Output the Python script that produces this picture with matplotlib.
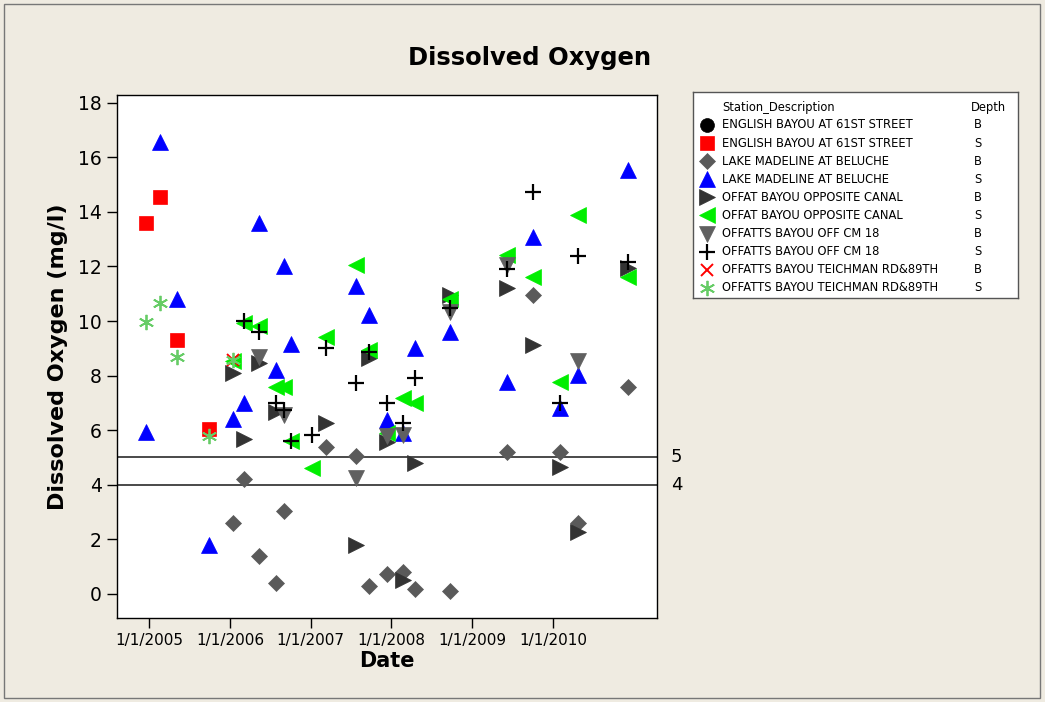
import matplotlib
matplotlib.use("Agg")
import matplotlib.pyplot as plt
import numpy as np
import pandas as pd
from matplotlib.patches import Rectangle

N = None

# sampling dates
dates = pd.to_datetime([
    "2004-12-16", "2005-02-18", "2005-05-04", "2005-09-28", "2006-01-13",
    "2006-03-05", "2006-05-10", "2006-07-26", "2006-09-02", "2006-10-05",
    "2007-01-07", "2007-03-10", "2007-07-26", "2007-09-21", "2007-12-11",
    "2008-02-23", "2008-04-18", "2008-09-24", "2009-06-08", "2009-10-02",
    "2010-02-03", "2010-04-26", "2010-12-07",
])

# dissolved oxygen (mg/l) per station/depth, None = not sampled
english_b = [N] * 23
english_s = [13.6, 14.55, 9.3, 6.03] + [N] * 19
lake_b = [N, N, N, N, 2.59, 4.2, 1.39, 0.39, 3.05, N, N, 5.4, 5.05, 0.3, 0.73,
          0.82, 0.18, 0.12, 5.21, 10.95, 5.21, 2.61, 7.57]
lake_s = [5.95, 16.57, 10.8, 1.8, 6.4, 7.0, 13.6, 8.2, 12.0, 9.15, N, N, 11.29,
          10.22, 6.37, 5.91, 9.02, 9.6, 7.78, 13.09, 6.8, 8.02, 15.53]
offat_b = [N, N, N, N, 8.1, 5.67, 8.45, 6.68, N, N, N, 6.25, 1.79, 8.63, 5.58,
           0.51, 4.79, 10.95, 11.2, 9.12, 4.66, 2.28, 11.93]
offat_s = [N, N, N, N, 8.55, 9.93, 9.8, 7.57, 7.57, 5.62, 4.6, 9.4, 12.05, 8.94,
           5.88, 7.17, 6.98, 10.8, 12.42, 11.62, 7.75, 13.88, 11.62]
offatts_b = [N, N, N, N, N, N, 8.69, N, 6.56, N, N, N, 4.24, N, 5.79, 5.82, N,
             10.34, 12.07, N, N, 8.55, N]
offatts_s = [N, N, N, N, N, 10.0, 9.6, 6.98, 6.74, 5.62, 5.82, 9.0, 7.72, 8.87,
             6.98, 6.25, 7.9, 10.46, 11.9, 14.74, 6.98, 12.4, 12.17]
teich_b = [N, N, N, N, 8.57] + [N] * 18
teich_s = [9.97, 10.65, 8.69, 5.79, 8.57] + [N] * 18

stations = ["ENGLISH BAYOU AT 61ST STREET", "ENGLISH BAYOU AT 61ST STREET",
            "LAKE MADELINE AT BELUCHE", "LAKE MADELINE AT BELUCHE",
            "OFFAT BAYOU OPPOSITE CANAL", "OFFAT BAYOU OPPOSITE CANAL",
            "OFFATTS BAYOU OFF CM 18", "OFFATTS BAYOU OFF CM 18",
            "OFFATTS BAYOU TEICHMAN RD&89TH", "OFFATTS BAYOU TEICHMAN RD&89TH"]
depths = ["B", "S", "B", "S", "B", "S", "B", "S", "B", "S"]
series = [english_b, english_s, lake_b, lake_s, offat_b, offat_s,
          offatts_b, offatts_s, teich_b, teich_s]
ref_levels = [5, 4]
year_ticks = pd.to_datetime(["2005-01-01", "2006-01-01", "2007-01-01",
                             "2008-01-01", "2009-01-01", "2010-01-01"])

# marker styles mimicking the Minitab symbols
styles = [
    dict(marker="o", color="#000000", ms=10),
    dict(marker="s", color="#FF0000", ms=10),
    dict(marker="D", color="#5A5A5A", ms=8),
    dict(marker="^", color="#0000FF", ms=11),
    dict(marker=">", color="#333333", ms=11),
    dict(marker="<", color="#00EE00", ms=11),
    dict(marker="v", color="#606060", ms=11),
    dict(marker="+", color="#000000", ms=11, mew=1.6),
    dict(marker="x", color="#FF0000", ms=9, mew=1.4),
    dict(marker=(6, 2, 0), color="#66CC66", ms=11, mew=1.3),
]

bg = "#EFEBE1"
fig = plt.figure(figsize=(10.45, 7.02), dpi=100, facecolor=bg)
fig.patches.append(Rectangle((4 / 1045, 4 / 702), 1 - 9 / 1045, 1 - 8 / 702,
                             transform=fig.transFigure, fill=False,
                             edgecolor="#777777", lw=1))

ax = fig.add_axes([117 / 1045, 1 - 618 / 702, 540 / 1045, 523 / 702])
ax.set_facecolor("white")

for vals, st in zip(series, styles):
    y = np.array(vals, dtype=float)
    ax.plot(dates, y, linestyle="none", marker=st["marker"], color=st["color"],
            markersize=st["ms"], markeredgewidth=st.get("mew", 0.5))

for lev in ref_levels:
    ax.axhline(lev, color="#4A4A4A", lw=1.4, zorder=1)
    ax.annotate(str(lev), xy=(1, lev), xycoords=("axes fraction", "data"),
                xytext=(10, 0), textcoords="offset points", va="center",
                ha="left", fontsize=13, annotation_clip=False)

ax.set_xlim(pd.Timestamp("2004-08-07"), pd.Timestamp("2011-04-17"))
ax.set_ylim(-0.88, 18.28)
ax.set_yticks(np.arange(0, 19, 2))
ax.set_xticks(year_ticks)
ax.set_xticklabels([f"{d.month}/{d.day}/{d.year}" for d in year_ticks])
ax.tick_params(axis="y", labelsize=13.5, length=7, width=1, pad=4)
ax.tick_params(axis="x", labelsize=11, length=7, width=1, pad=4)
for sp in ax.spines.values():
    sp.set_linewidth(1)

ax.set_xlabel("Date", fontsize=15, fontweight="bold", labelpad=2)
ax.set_ylabel("Dissolved Oxygen (mg/l)", fontsize=16, fontweight="bold",
              labelpad=7)
fig.text(530 / 1045, 1 - 58 / 702, "Dissolved Oxygen", fontsize=17.5,
         fontweight="bold", ha="center", va="center")

# legend box drawn by hand (two text columns)
lg = fig.add_axes([693 / 1045, 1 - 298 / 702, 325 / 1045, 206 / 702])
lg.set_xlim(693, 1018)
lg.set_ylim(298, 92)
lg.set_xticks([])
lg.set_yticks([])
lg.set_facecolor("white")
for sp in lg.spines.values():
    sp.set_color("#555555")
    sp.set_linewidth(1)
lg.text(722, 107, "Station_Description", fontsize=8.3, va="center")
lg.text(971, 107, "Depth", fontsize=8.3, va="center")
for i, (name, dep, st) in enumerate(zip(stations, depths, styles)):
    yy = 125 + 18.1 * i
    lg.plot([707], [yy], linestyle="none", marker=st["marker"],
            color=st["color"], markersize=st["ms"],
            markeredgewidth=st.get("mew", 0.5), clip_on=False)
    lg.text(722, yy, name, fontsize=8.3, va="center")
    lg.text(974, yy, dep, fontsize=8.3, va="center")

fig.savefig("out.png", dpi=100, facecolor=bg)
